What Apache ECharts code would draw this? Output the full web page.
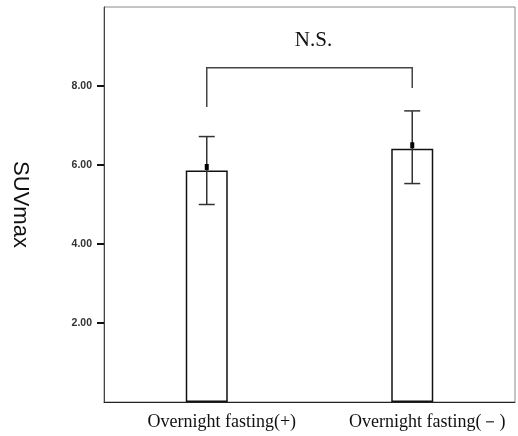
<!DOCTYPE html>
<html>
<head>
<meta charset="utf-8">
<script src="https://cdn.jsdelivr.net/npm/echarts@6/dist/echarts.min.js"></script>
<style>
  html, body { margin: 0; padding: 0; background: #fff; }
  #chart { width: 518px; height: 436px; }
</style>
</head>
<body>
<div id="chart"></div>
<script>
// 数据
const categories = ['Overnight fasting(+)', 'Overnight fasting(\uff0d)'];
const barValues = [5.86, 6.41];
const meanValues = [5.95, 6.50];
const errLow = [5.00, 5.53];
const errHigh = [6.72, 7.37];
const yTicks = [2, 4, 6, 8];
// 括号: [左端下沿, 右端下沿, 横线高度]
const bracketLow = [7.47, 7.95];
const bracketTop = 8.46;
const bracketLabel = 'N.S.';

const chart = echarts.init(document.getElementById('chart'));

const option = {
    animation: false,
    grid: {
        left: 104, right: 3, top: 7, bottom: 34,
        outerBoundsMode: 'none',
        containLabel: false,
        show: true,
        borderColor: '#8a8a8a',
        borderWidth: 1,
    },
    xAxis: {
        type: 'category',
        data: categories,
        axisLine: { lineStyle: { color: '#222', width: 1 } },
        axisTick: { alignWithLabel: true, length: 4, lineStyle: { color: '#222', width: 2 } },
        axisLabel: {
            fontFamily: 'Liberation Serif',
            fontSize: 18,
            color: '#111',
            margin: 11,
            padding: [0, 0, 0, 30],
        },
    },
    yAxis: {
        type: 'value',
        min: 0,
        max: 10,
        interval: 2,
        name: 'SUVmax',
        nameLocation: 'middle',
        nameRotate: -90,
        nameGap: 73,
        nameTextStyle: {
            fontFamily: 'Liberation Sans',
            fontSize: 22,
            color: '#111',
        },
        splitLine: { show: false },
        axisLine: { show: true, lineStyle: { color: '#444', width: 1 } },
        axisTick: { show: true, length: 7, customValues: yTicks, lineStyle: { color: '#111', width: 2 } },
        axisLabel: {
            fontFamily: 'Liberation Sans',
            fontSize: 10.5,
            fontWeight: 'bold',
            color: '#333',
            margin: 12,
            customValues: yTicks,
            formatter: function (v) { return v.toFixed(2); },
        },
    },
    series: [
        {
            type: 'bar',
            data: barValues,
            barWidth: 42,
            itemStyle: { color: '#fff', borderColor: '#111', borderWidth: 1.5 },
            z: 2,
        },
        {
            // 误差线 + 均值点
            type: 'custom',
            z: 5,
            data: categories.map((c, i) => [i, errLow[i], errHigh[i], meanValues[i]]),
            renderItem: function (params, api) {
                const x = api.value(0);
                const lo = api.coord([x, api.value(1)]);
                const hi = api.coord([x, api.value(2)]);
                const mid = api.coord([x, api.value(3)]);
                const cap = 8;
                const st = { stroke: '#333', lineWidth: 1.5 };
                return {
                    type: 'group',
                    children: [
                        { type: 'line', shape: { x1: lo[0], y1: lo[1], x2: hi[0], y2: hi[1] }, style: st },
                        { type: 'line', shape: { x1: lo[0] - cap, y1: lo[1], x2: lo[0] + cap, y2: lo[1] }, style: st },
                        { type: 'line', shape: { x1: hi[0] - cap, y1: hi[1], x2: hi[0] + cap, y2: hi[1] }, style: st },
                        { type: 'rect', shape: { x: mid[0] - 2, y: mid[1] - 3, width: 4, height: 6 }, style: { fill: '#000' } },
                    ],
                };
            },
        },
        {
            // 显著性括号
            type: 'custom',
            z: 5,
            data: [[0, 1, bracketLow[0], bracketLow[1], bracketTop]],
            renderItem: function (params, api) {
                const l0 = api.coord([api.value(0), api.value(2)]);
                const r0 = api.coord([api.value(1), api.value(3)]);
                const lt = api.coord([api.value(0), api.value(4)]);
                const rt = api.coord([api.value(1), api.value(4)]);
                const st = { stroke: '#444', lineWidth: 1.5, fill: null };
                return {
                    type: 'group',
                    children: [
                        { type: 'polyline', shape: { points: [l0, lt, rt, r0] }, style: st },
                        {
                            type: 'text',
                            style: {
                                x: (lt[0] + rt[0]) / 2 + 4,
                                y: lt[1] - 17,
                                text: bracketLabel,
                                font: '21px "Liberation Serif"',
                                fill: '#111',
                                align: 'center',
                                verticalAlign: 'bottom',
                            },
                        },
                    ],
                };
            },
        },
    ],
};

chart.setOption(option);
</script>
</body>
</html>
